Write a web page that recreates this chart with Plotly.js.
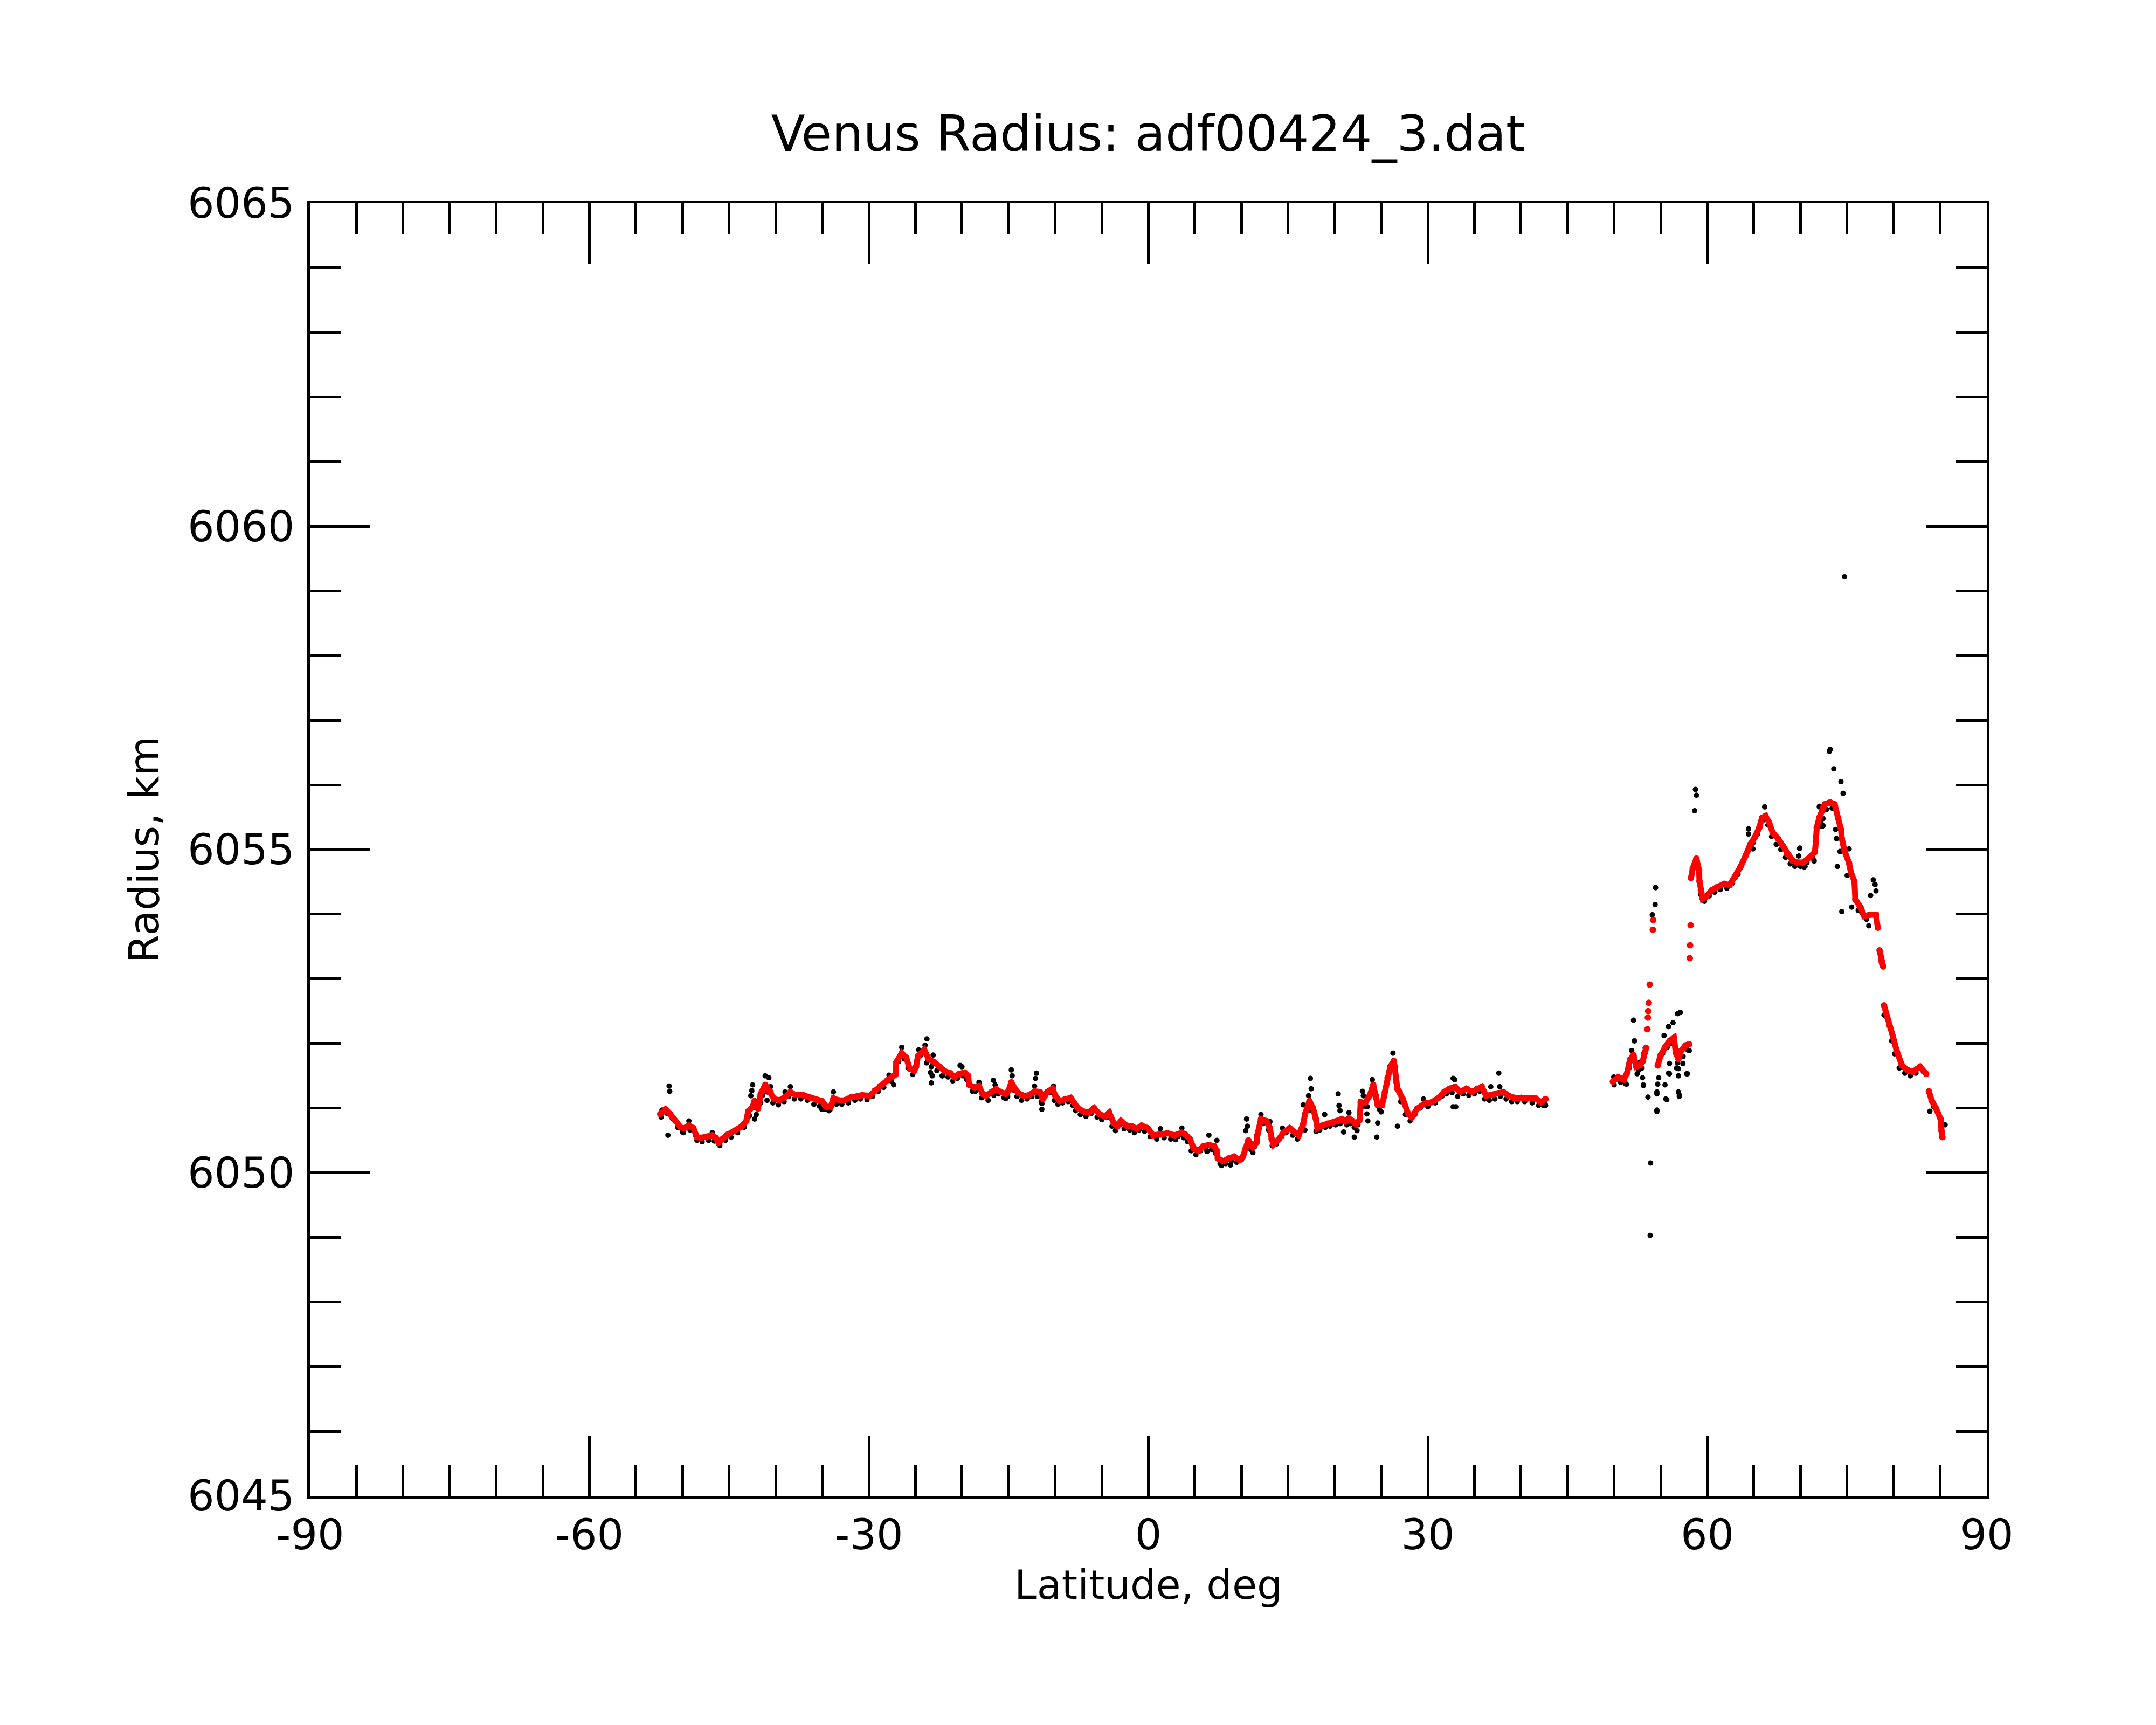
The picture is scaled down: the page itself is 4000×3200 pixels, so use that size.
<!DOCTYPE html>
<html>
<head>
<meta charset="utf-8">
<script src="https://cdn.plot.ly/plotly-3.0.1.min.js"></script>
<style>html,body{margin:0;padding:0;background:#fff;}#chart{width:4000px;height:3200px;}</style>
</head>
<body>
<div id="chart"></div>
<script>
// Smoothed radius profile (red), null = gap in the profile
const redLat = [-52.4,-51.83,-51.34,-50.77,-50.19,-49.8,-49.32,-48.84,-48.45,-48.07,-47.49,-46.81,-46.43,-46.14,-45.75,-45.17,-44.4,-43.63,-43.15,-42.96,-42.48,-42.28,-41.9,-41.61,-41.13,-40.55,-40.16,-39.58,-38.91,-38.43,-37.85,-37.08,-36.31,-35.54,-35.05,-34.57,-34.09,-33.8,-33.22,-32.64,-31.87,-31.29,-30.72,-29.94,-29.37,-28.79,-28.02,-27.15,-27.05,-26.47,-25.99,-25.61,-25.12,-24.93,-24.74,-24.06,-23.58,-23.0,-22.42,-21.85,-21.27,-20.79,-20.3,-19.72,-19.34,-19.24,-18.66,-18.18,-17.8,-17.41,-16.83,-16.35,-15.87,-15.29,-15.0,-14.71,-14.33,-13.94,-13.36,-12.78,-12.21,-11.63,-11.34,-10.86,-10.28,-9.99,-9.51,-8.93,-8.35,-7.96,-7.58,-7.0,-6.42,-5.84,-5.27,-4.69,-4.2,-3.72,-3.34,-2.95,-2.37,-1.8,-1.22,-0.74,-0.06,0.52,1.29,2.06,2.83,3.6,3.99,4.47,4.86,5.34,5.92,6.5,7.07,7.36,7.46,8.04,8.62,9.2,9.77,10.16,10.45,10.74,11.22,11.61,11.70,11.89,12.09,12.67,13.05,13.24,13.44,14.01,14.5,15.17,15.75,16.14,16.62,16.81,17.29,17.68,17.97,18.16,18.64,19.22,19.8,20.38,20.76,21.15,21.53,21.92,22.3,22.69,22.79,23.27,23.75,24.14,24.43,24.62,25.1,25.39,25.68,25.97,26.35,26.45,26.74,27.32,27.9,28.28,28.86,29.63,30.4,31.17,31.75,32.33,32.91,33.48,34.15,34.73,35.31,35.79,36.27,36.95,37.53,38.1,38.68,39.26,40.03,40.8,41.58,42.15,42.64,46.0,
49.87,50.44,51.02,51.41,51.7,52.08,52.37,52.76,53.05,53.24,53.43,53.5,53.57,53.6,53.62,53.63,53.65,53.68,53.72,53.76,53.82,54.0,54.15,54.17,54.2,54.4,
54.68,54.97,55.46,55.94,56.42,56.61,56.9,57.19,57.67,58.06,58.1,58.12,58.13,58.15,58.18,58.21,58.23,
58.25,58.44,58.83,59.12,59.16,59.31,59.5,59.89,60.47,61.05,61.82,62.4,62.97,63.55,64.13,64.61,65.1,65.58,65.87,66.25,66.64,67.02,67.6,68.08,68.57,69.14,69.63,70.3,70.98,71.55,71.65,71.75,72.04,72.42,72.61,73.0,73.19,73.67,74.06,74.35,74.44,74.73,75.22,75.41,75.79,75.89,76.47,76.85,77.43,78.11,78.3,78.4,
78.49,78.69,78.88,78.92,
78.97,79.17,79.55,79.94,80.32,80.9,81.48,82.06,82.83,83.5,83.6,
83.79,84.08,84.57,85.05,85.14,85.24];
const redRad = [6050.91,6050.98,6050.91,6050.80,6050.70,6050.69,6050.73,6050.69,6050.55,6050.54,6050.55,6050.58,6050.54,6050.47,6050.52,6050.59,6050.65,6050.72,6050.80,6050.95,6051.02,6051.11,6050.99,6051.22,6051.36,6051.25,6051.14,6051.12,6051.18,6051.25,6051.20,6051.20,6051.16,6051.12,6051.11,6051.02,6051.02,6051.15,6051.12,6051.12,6051.17,6051.18,6051.20,6051.19,6051.27,6051.34,6051.43,6051.52,6051.71,6051.85,6051.78,6051.61,6051.58,6051.64,6051.80,6051.90,6051.76,6051.71,6051.64,6051.57,6051.54,6051.48,6051.53,6051.55,6051.50,6051.36,6051.32,6051.34,6051.22,6051.19,6051.25,6051.29,6051.25,6051.22,6051.27,6051.40,6051.30,6051.23,6051.19,6051.20,6051.26,6051.25,6051.14,6051.25,6051.30,6051.19,6051.11,6051.14,6051.16,6051.08,6051.00,6050.95,6050.93,6051.00,6050.91,6050.87,6050.93,6050.77,6050.72,6050.80,6050.73,6050.72,6050.68,6050.73,6050.69,6050.58,6050.59,6050.61,6050.58,6050.62,6050.59,6050.52,6050.38,6050.34,6050.41,6050.43,6050.41,6050.34,6050.22,6050.18,6050.22,6050.25,6050.20,6050.25,6050.38,6050.50,6050.40,6050.47,6050.58,6050.69,6050.83,6050.80,6050.69,6050.52,6050.44,6050.52,6050.62,6050.69,6050.62,6050.58,6050.75,6050.90,6051.11,6051.00,6050.84,6050.69,6050.73,6050.76,6050.77,6050.80,6050.83,6050.79,6050.84,6050.80,6050.75,6050.82,6051.09,6051.08,6051.19,6051.36,6051.19,6051.05,6051.05,6051.25,6051.47,6051.64,6051.73,6051.64,6051.30,6051.14,6050.91,6050.86,6050.99,6051.07,6051.09,6051.16,6051.25,6051.30,6051.33,6051.25,6051.30,6051.25,6051.30,6051.33,6051.19,6051.20,6051.23,6051.25,6051.19,6051.16,6051.16,6051.15,6051.15,6051.09,6051.14,null,
6051.41,6051.48,6051.44,6051.55,6051.75,6051.82,6051.64,6051.66,6051.72,6051.85,6051.93,null,6052.22,null,6052.40,null,6052.50,null,6052.63,null,6052.91,null,6053.76,null,6053.91,null,
6051.66,6051.81,6051.94,6052.04,6052.09,6051.86,6051.76,6051.89,6051.97,6051.99,null,6053.32,null,6053.52,null,6053.83,null,
6054.56,6054.71,6054.86,6054.68,6054.51,6054.37,6054.24,6054.27,6054.37,6054.42,6054.47,6054.45,6054.57,6054.73,6054.91,6055.08,6055.19,6055.34,6055.49,6055.52,6055.42,6055.26,6055.17,6055.06,6054.93,6054.83,6054.80,6054.80,6054.88,6054.96,6055.12,6055.34,6055.50,6055.65,6055.70,6055.72,6055.73,6055.70,6055.49,6055.31,6055.17,6054.98,6054.79,6054.65,6054.51,6054.23,6054.10,6053.97,6053.99,6053.99,6053.79,null,
6053.44,6053.28,6053.19,null,
6052.59,6052.47,6052.28,6052.10,6051.89,6051.66,6051.59,6051.56,6051.64,6051.53,null,
6051.26,6051.12,6050.99,6050.83,6050.65,6050.55];

// Individual radius measurements (black)
const blackLat = [-52.3,-51.7,-51.1,-50.5,-49.9,-49.2,-48.6,-47.9,-47.2,-46.6,-46.0,-45.4,-44.8,-44.1,-43.4,-42.8,-42.1,-41.4,-40.9,-40.3,-39.7,-39.1,-38.6,-38.0,-37.3,-36.6,-35.9,-35.3,-34.8,-34.3,-33.5,-32.9,-32.2,-31.5,-30.9,-30.2,-29.6,-29.0,-28.4,-27.6,-26.8,-26.2,-25.8,-25.3,-24.4,-23.8,-23.3,-22.7,-22.1,-21.5,-21.0,-20.5,-19.9,-19.5,-18.9,-18.4,-17.9,-17.2,-16.6,-16.1,-15.5,-15.1,-14.5,-14.1,-13.6,-13.0,-12.5,-11.9,-11.5,-11.1,-10.5,-10.1,-9.7,-9.2,-8.6,-8.1,-7.8,-7.3,-6.7,-6.1,-5.5,-5.0,-4.4,-3.9,-3.5,-3.1,-2.6,-2.0,-1.5,-1.0,-0.4,0.2,0.9,1.7,2.4,3.2,3.8,4.2,4.6,5.1,5.6,6.2,6.8,7.2,7.7,8.3,8.9,9.5,10.0,10.6,11.0,11.4,12.3,12.9,13.3,13.7,14.3,14.8,15.5,16.0,16.4,17.0,17.5,18.0,18.4,19.0,19.5,20.1,20.6,21.3,21.7,22.1,22.5,23.0,23.5,24.0,24.8,25.3,25.8,26.2,26.6,27.1,27.6,28.1,28.6,29.2,30.0,30.8,31.5,32.0,32.6,33.2,33.8,34.4,35.0,35.6,36.1,36.6,37.2,37.8,38.4,39.0,39.6,40.4,41.2,41.9,42.4,42.6,
50.0,50.7,51.2,51.6,51.9,52.6,53.0,55.2,55.7,56.2,56.5,56.8,57.4,57.9,59.3,59.7,60.2,60.8,61.4,62.1,62.7,63.3,63.9,64.4,64.9,65.4,65.7,66.1,66.5,66.9,67.4,67.9,68.4,68.9,69.4,70.0,70.7,71.3,72.2,72.8,73.4,76.2,76.6,77.1,79.3,79.8,80.1,80.6,81.2,81.8,82.4,83.2,84.3,84.8,
-51.44,-51.38,-51.57,-52.21,-50.0,-49.32,-48.45,-46.81,-46.14,-42.48,-42.57,-42.67,-42.28,-42.09,-41.61,-41.13,-40.74,-40.93,-40.55,-39.0,-38.43,-35.05,-34.18,-33.8,-27.83,-27.34,-26.47,
-23.77,-23.97,-24.64,-23.1,-23.39,-23.2,-23.29,-22.13,-20.21,-20.01,-18.57,-18.18,-16.64,-16.45,-15.29,-14.71,-14.62,-12.01,-12.11,-12.21,-11.43,-11.43,-10.18,-3.53,1.29,2.93,3.6,
6.5,6.3,7.36,7.85,8.81,10.54,10.64,10.45,11.22,12.09,13.05,14.4,16.81,16.62,17.2,17.48,17.39,18.93,20.38,20.47,20.57,20.96,21.53,22.11,22.4,22.98,23.08,23.46,23.56,24.04,24.52,24.62,25.0,26.26,26.55,26.74,27.03,29.53,32.72,32.72,
37.62,36.76,37.72,33.0,42.64,32.9,
52.08,52.18,51.89,49.96,51.31,52.47,53.05,53.14,53.63,53.91,54.59,54.59,54.68,54.78,55.46,55.55,55.84,55.94,56.71,56.9,56.9,57.0,57.38,57.77,55.36,55.84,56.32,56.8,58.06,53.34,
58.73,58.83,58.64,54.45,54.4,54.1,52.76,53.14,53.87,54.59,54.59,55.65,55.94,57.09,56.9,57.0,57.87,64.42,64.42,64.9,66.16,69.92,70.4,71.46,72.04,72.42,73.1,
74.73,73.19,73.58,74.35,74.58,72.03,72.42,72.32,73.77,73.87,74.25,75.22,73.96,75.02,74.44,75.5,77.82,78.01,78.11,77.53,77.34,69.91,69.82,70.49,71.46,78.97,81.87,83.89,85.53];
const blackRad = [6050.86,6050.92,6050.84,6050.70,6050.62,6050.66,6050.58,6050.48,6050.50,6050.49,6050.42,6050.50,6050.55,6050.62,6050.70,6050.88,6051.00,6051.20,6051.25,6051.08,6051.05,6051.10,6051.18,6051.14,6051.14,6051.12,6051.06,6051.03,6050.98,6050.96,6051.06,6051.06,6051.08,6051.12,6051.14,6051.13,6051.18,6051.26,6051.32,6051.42,6051.72,6051.76,6051.62,6051.52,6051.82,6051.70,6051.64,6051.58,6051.50,6051.48,6051.42,6051.46,6051.50,6051.44,6051.26,6051.28,6051.16,6051.12,6051.20,6051.22,6051.16,6051.18,6051.28,6051.18,6051.12,6051.14,6051.18,6051.18,6051.10,6051.18,6051.24,6051.12,6051.06,6051.08,6051.10,6051.04,6050.96,6050.90,6050.87,6050.92,6050.86,6050.82,6050.86,6050.72,6050.66,6050.74,6050.68,6050.66,6050.62,6050.66,6050.64,6050.56,6050.52,6050.54,6050.52,6050.56,6050.54,6050.48,6050.34,6050.28,6050.34,6050.36,6050.36,6050.30,6050.14,6050.14,6050.18,6050.16,6050.20,6050.44,6050.36,6050.40,6050.76,6050.66,6050.42,6050.44,6050.56,6050.62,6050.58,6050.52,6050.66,6051.00,6050.96,6050.64,6050.66,6050.70,6050.72,6050.74,6050.76,6050.74,6050.76,6050.70,6050.74,6051.02,6051.02,6051.28,6050.98,6051.16,6051.56,6051.70,6051.40,6051.10,6050.90,6050.80,6050.90,6051.00,6051.02,6051.08,6051.18,6051.22,6051.24,6051.18,6051.22,6051.20,6051.22,6051.26,6051.14,6051.12,6051.14,6051.18,6051.14,6051.10,6051.10,6051.10,6051.08,6051.04,6051.04,6051.06,
6051.36,6051.40,6051.38,6051.62,6051.74,6051.58,6051.62,6051.84,6051.94,6052.00,6051.98,6051.70,6051.80,6051.90,6054.30,6054.20,6054.28,6054.34,6054.38,6054.40,6054.48,6054.62,6054.82,6054.98,6055.10,6055.24,6055.40,6055.46,6055.38,6055.20,6055.08,6055.00,6054.88,6054.78,6054.74,6054.74,6054.80,6054.88,6055.42,6055.62,6055.64,6054.06,6054.02,6053.92,6052.40,6052.04,6051.84,6051.62,6051.54,6051.50,6051.54,6051.56,6051.02,6050.92,
6051.34,6051.26,6050.58,6050.97,6050.63,6050.80,6050.50,6050.62,6050.45,6051.36,6051.27,6051.19,6050.83,6050.90,6051.08,6051.50,6051.47,6051.12,6051.33,6051.25,6051.33,6050.98,6050.97,6051.25,6051.51,6051.36,6051.94,
6052.07,6051.97,6051.90,6051.82,6051.55,6051.50,6051.39,6051.50,6051.66,6051.64,6051.26,6051.40,6051.43,6051.36,6051.15,6051.59,6051.50,6051.54,6051.46,6051.34,6050.98,6051.07,6051.34,6050.65,6050.68,6050.51,6050.69,
6050.58,6050.33,6050.50,6050.11,6050.12,6050.83,6050.72,6050.65,6050.31,6050.90,6050.79,6050.69,6050.66,6051.05,6051.19,6051.30,6051.46,6050.90,6051.22,6051.04,6050.96,6050.63,6050.93,6050.55,6050.65,6051.26,6051.19,6050.91,6050.80,6051.44,6050.55,6050.77,6050.94,6051.85,6051.64,6050.72,6051.25,6051.14,6051.46,6051.02,
6051.54,6051.33,6051.33,6051.02,6051.04,6051.44,
6052.36,6052.04,6051.89,6051.48,6051.37,6051.53,6051.47,6051.36,6051.17,6050.15,6051.25,6050.95,6051.37,6051.47,6051.36,6051.14,6051.54,6051.69,6051.62,6051.50,6051.25,6051.18,6051.69,6051.53,6052.12,6052.26,6052.32,6052.46,6051.89,6051.93,
6055.93,6055.84,6055.60,6054.41,6054.15,6053.99,6051.71,6051.35,6049.03,6051.22,6050.97,6051.13,6051.53,6052.48,6051.61,6051.20,6051.53,6055.32,6055.24,6055.01,6055.66,6055.02,6054.73,6054.83,6055.67,6055.37,6056.52,
6059.22,6056.55,6056.25,6056.05,6055.87,6055.66,6055.48,6055.36,6055.31,6055.17,6054.97,6055.01,6054.74,6054.60,6054.04,6054.11,6054.53,6054.46,6054.36,6054.29,6053.82,6055.02,6054.90,6054.74,6054.82,6052.44,6051.53,6050.95,6050.74];

const xTickVals = [-90,-60,-30,0,30,60,90];
const yTickVals = [6045,6050,6055,6060,6065];
const xTitle = 'Latitude, deg';
const yTitle = 'Radius, km';
const chartTitle = 'Venus Radius: adf00424_3.dat';

const traces = [
  {x: blackLat, y: blackRad, type: 'scatter', mode: 'markers',
   marker: {color: '#000000', size: 10}, hoverinfo: 'x+y'},
  {x: redLat, y: redRad, type: 'scatter', mode: 'lines+markers', connectgaps: false,
   line: {color: '#ff0000', width: 11}, marker: {color: '#ff0000', size: 12}, hoverinfo: 'x+y'}
];

const axisCommon = {
  showline: true, linewidth: 5, linecolor: '#000', mirror: 'ticks',
  ticks: 'inside', tickwidth: 5, tickcolor: '#000',
  showgrid: false, zeroline: false,
  tickfont: {family: 'DejaVu Sans', size: 78, color: '#000'}
};

const layout = {
  width: 4000, height: 3200,
  margin: {l: 575, r: 314, t: 377, b: 425, pad: 0},
  paper_bgcolor: '#ffffff', plot_bgcolor: '#ffffff',
  showlegend: false,
  font: {family: 'DejaVu Sans', color: '#000'},
  title: {text: chartTitle, font: {family: 'DejaVu Sans', size: 92, color: '#000'},
          x: 0.5, xref: 'paper', xanchor: 'center', y: 0.9225, yref: 'container', yanchor: 'middle'},
  xaxis: Object.assign({}, axisCommon, {
    range: [-90, 90], tickvals: xTickVals, ticktext: xTickVals.map(String), ticklen: 112,
    minor: {dtick: 5, tick0: 0, ticks: 'inside', ticklen: 57, tickwidth: 5, tickcolor: '#000', showgrid: false}
  }),
  yaxis: Object.assign({}, axisCommon, {
    range: [6045, 6065], tickvals: yTickVals, ticktext: yTickVals.map(String), ticklen: 112,
    ticklabelstandoff: 8,
    minor: {dtick: 1, tick0: 6045, ticks: 'inside', ticklen: 57, tickwidth: 5, tickcolor: '#000', showgrid: false},
    title: {text: yTitle, font: {family: 'DejaVu Sans', size: 76, color: '#000'}, standoff: 30}
  }),
  annotations: [
    {text: xTitle, xref: 'paper', yref: 'paper', x: 0.5, y: -0.069, xanchor: 'center', yanchor: 'middle',
     showarrow: false, font: {family: 'DejaVu Sans', size: 75, color: '#000'}}
  ]
};

Plotly.newPlot('chart', traces, layout, {staticPlot: true, displayModeBar: false});
</script>
</body>
</html>
